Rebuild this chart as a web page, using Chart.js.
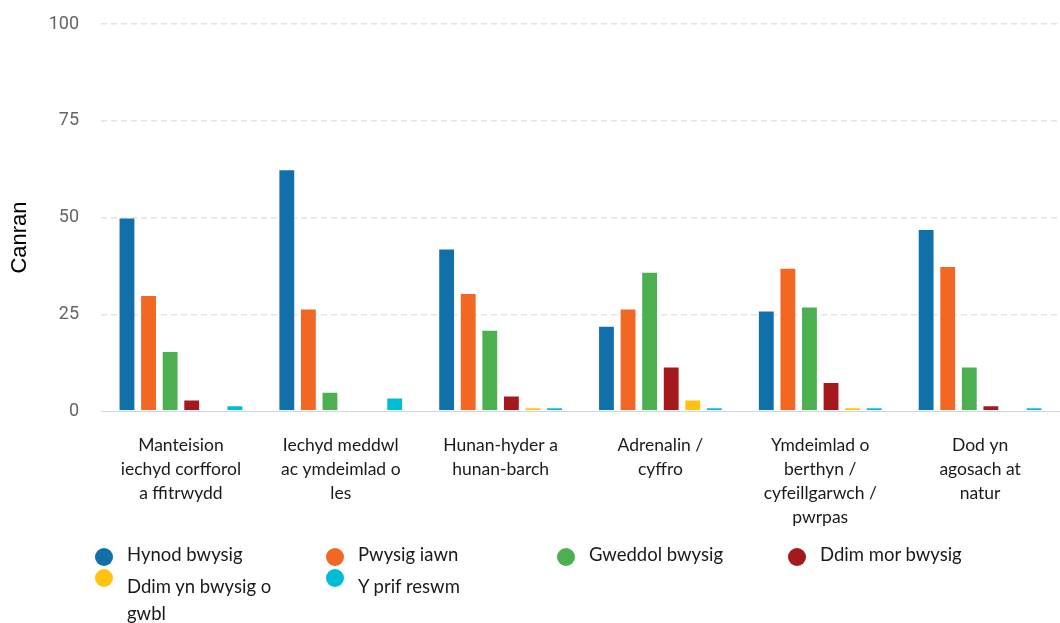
<!DOCTYPE html>
<html>
<head>
<meta charset="utf-8">
<script src="https://cdn.jsdelivr.net/npm/chart.js@4.4.1/dist/chart.umd.min.js"></script>
<style>
  html, body { margin: 0; padding: 0; background: #fff; }
  #wrap { position: relative; width: 1060px; height: 623px; overflow: hidden; }
  #c { position: absolute; left: 0; top: 0; }
  #legend { position: absolute; left: 0; top: 0; width: 1060px; height: 623px; pointer-events: none; }
  .li { position: absolute; width: 210px; font-family: Lato, sans-serif; font-size: 18.5px; color: #1a1a1a; }
  .li .dot { position: absolute; left: 0; width: 18px; height: 18px; border-radius: 50%; }
  .li .tx { position: absolute; left: 32px; width: 165px; line-height: 27px; }
</style>
</head>
<body>
<div id="wrap">
  <canvas id="c" width="1060" height="535"></canvas>
  <div id="legend"></div>
</div>
<script>
const categories = [
  ["Manteision", "iechyd corfforol", "a ffitrwydd"],
  ["Iechyd meddwl", "ac ymdeimlad o", "les"],
  ["Hunan-hyder a", "hunan-barch"],
  ["Adrenalin /", "cyffro"],
  ["Ymdeimlad o", "berthyn /", "cyfeillgarwch /", "pwrpas"],
  ["Dod yn", "agosach at", "natur"]
];
const seriesNames = ["Hynod bwysig", "Pwysig iawn", "Gweddol bwysig", "Ddim mor bwysig", "Ddim yn bwysig o gwbl", "Y prif reswm"];
const hynodBwysig   = [50, 62.5, 42, 22, 26, 47];
const pwysigIawn    = [30, 26.5, 30.5, 26.5, 37, 37.5];
const gweddolBwysig = [15.5, 5, 21, 36, 27, 11.5];
const ddimMorBwysig = [3, 0, 4, 11.5, 7.5, 1.5];
const ddimYnBwysig  = [0, 0, 1, 3, 1, 0];
const yPrifReswm    = [1.5, 3.5, 1, 1, 1, 1];
const yTicks = [0, 25, 50, 75, 100];
const yTitle = "Canran";
const colors = ["#1170aa", "#f26722", "#4caf50", "#a3191c", "#ffc20e", "#00bcd4"];

const seriesValues = [hynodBwysig, pwysigIawn, gweddolBwysig, ddimMorBwysig, ddimYnBwysig, yPrifReswm];

const yTitlePlugin = {
  id: 'yTitle',
  afterDraw(chart) {
    const ctx = chart.ctx;
    const ys = chart.scales.y;
    ctx.save();
    ctx.translate(20, (ys.top + ys.bottom) / 2 + 20);
    ctx.rotate(-Math.PI / 2);
    ctx.textAlign = 'center';
    ctx.textBaseline = 'middle';
    ctx.fillStyle = '#000';
    ctx.font = '22px "Liberation Sans", Arial, sans-serif';
    ctx.fillText(yTitle, 0, 0);
    ctx.restore();
  }
};

const chart = new Chart(document.getElementById('c'), {
  type: 'bar',
  data: {
    labels: categories,
    datasets: seriesNames.map((name, i) => ({
      label: name,
      data: seriesValues[i],
      backgroundColor: colors[i],
      borderColor: 'rgba(255,255,255,0.35)',
      borderWidth: 1,
      categoryPercentage: 0.81,
      barPercentage: 0.78
    }))
  },
  options: {
    responsive: false,
    animation: false,
    layout: { padding: { top: 24, right: 0, left: 0, bottom: 0 } },
    plugins: {
      legend: { display: false },
      tooltip: { enabled: false }
    },
    scales: {
      x: {
        grid: { display: false, drawTicks: false },
        border: { display: true, color: '#ccd6eb', width: 1 },
        ticks: {
          color: '#1a1a1a',
          font: { family: 'Lato, sans-serif', size: 17.5, lineHeight: 1.38 },
          padding: 22,
          maxRotation: 0,
          autoSkip: false
        },
        afterFit(scale) {
          scale.height = 124;
          scale.paddingLeft = 0; scale.paddingRight = 0;
          scale.paddingTop = 0; scale.paddingBottom = 0;
        }
      },
      y: {
        min: 0,
        max: 100,
        afterBuildTicks(scale) { scale.ticks = yTicks.map(v => ({ value: v })); },
        grid: {
          drawTicks: false,
          color: ctx => ctx.tick && ctx.tick.value === 0 ? 'rgba(0,0,0,0)' : '#e3e3e3',
          lineWidth: 1.5
        },
        border: { display: false, dash: [6, 4] },
        ticks: {
          color: '#666666',
          font: { family: 'Roboto, sans-serif', size: 18 },
          padding: 22
        },
        afterFit(scale) {
          scale.width = 101;
          scale.paddingTop = 0; scale.paddingBottom = 0;
          scale.paddingLeft = 0; scale.paddingRight = 0;
        }
      }
    }
  },
  plugins: [yTitlePlugin]
});

// HTML legend built from the chart's own legend items
const legendEl = document.getElementById('legend');
const items = chart.options.plugins.legend.labels.generateLabels(chart);
items.forEach((it, i) => {
  const col = i % 4, row = Math.floor(i / 4);
  const d = document.createElement('div');
  d.className = 'li';
  d.style.left = (95 + col * 231) + 'px';
  d.style.top = (541 + row * 32) + 'px';
  const dot = document.createElement('div');
  dot.className = 'dot';
  dot.style.background = it.fillStyle;
  dot.style.top = (row === 0 ? 7 : -4) + 'px';
  const tx = document.createElement('div');
  tx.className = 'tx';
  tx.textContent = it.text;
  d.appendChild(dot);
  d.appendChild(tx);
  legendEl.appendChild(d);
});
</script>
</body>
</html>
